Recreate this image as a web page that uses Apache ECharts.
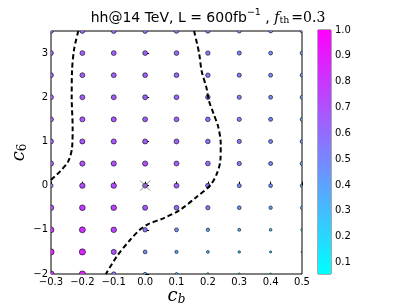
<!DOCTYPE html>
<html><head><meta charset="utf-8">
<script src="https://cdn.jsdelivr.net/npm/echarts@6/dist/echarts.min.js"></script>
<style>html,body{margin:0;padding:0;background:#fff}#c{width:407px;height:305px}</style>
</head><body><div id="c"></div>
<script>
// c_b grid values (x) and c_6 grid values (y)
var cbValues = [-0.3, -0.2, -0.1, 0.0, 0.1, 0.2, 0.3, 0.4, 0.5];
var c6Values = [-2, -1.5, -1, -0.5, 0, 0.5, 1, 1.5, 2, 2.5, 3, 3.5];
// significance per c6 row (bottom to top), one value per c_b column
var sigRows = [
  [0.85, 0.86, 0.55, 0.40, 0.30, 0.25, 0.20, 0.15, 0.10],
  [0.86, 0.86, 0.68, 0.47, 0.37, 0.30, 0.24, 0.19, 0.15],
  [0.80, 0.82, 0.75, 0.57, 0.48, 0.40, 0.33, 0.28, 0.24],
  [0.75, 0.78, 0.76, 0.68, 0.62, 0.54, 0.46, 0.41, 0.37],
  [0.52, 0.73, 0.73, 0.66, 0.66, 0.60, 0.50, 0.46, 0.42],
  [0.68, 0.70, 0.70, 0.70, 0.66, 0.62, 0.55, 0.50, 0.46],
  [0.66, 0.68, 0.68, 0.67, 0.65, 0.60, 0.54, 0.50, 0.46],
  [0.65, 0.67, 0.67, 0.66, 0.64, 0.60, 0.54, 0.50, 0.46],
  [0.65, 0.66, 0.66, 0.65, 0.63, 0.58, 0.53, 0.49, 0.46],
  [0.64, 0.65, 0.65, 0.64, 0.62, 0.58, 0.53, 0.49, 0.45],
  [0.64, 0.65, 0.65, 0.64, 0.62, 0.57, 0.52, 0.48, 0.45],
  [0.63, 0.64, 0.64, 0.63, 0.61, 0.57, 0.52, 0.48, 0.45]
];
// dashed contours
var leftContourCb = [-0.3, -0.27, -0.245, -0.233, -0.231, -0.234, -0.233, -0.226, -0.213];
var leftContourC6 = [0.13, 0.33, 0.55, 0.85, 1.3, 2.0, 2.6, 3.1, 3.5];
var rightContourCb = [0.156, 0.172, 0.18, 0.196, 0.203, 0.218, 0.233, 0.241, 0.24, 0.229, 0.208, 0.165, 0.111, 0.058, 0.01, -0.017, -0.048, -0.09, -0.125];
var rightContourC6 = [3.5, 3.0, 2.6, 2.2, 1.93, 1.63, 1.33, 0.95, 0.58, 0.28, 0.01, -0.25, -0.55, -0.74, -0.87, -1.0, -1.23, -1.6, -2.0];
// SM point
var smPoint = [0.0, 0.0];
// colorbar
var cbarMin = 0.055, cbarMax = 1.0;
var cbarTicks = [0.1, 0.2, 0.3, 0.4, 0.5, 0.6, 0.7, 0.8, 0.9, 1.0];
var xTicks = [-0.3, -0.2, -0.1, 0.0, 0.1, 0.2, 0.3, 0.4, 0.5];
var yTicks = [-2, -1, 0, 1, 2, 3];

var pts = [];
for (var r = 0; r < c6Values.length; r++) for (var c = 0; c < cbValues.length; c++) pts.push([cbValues[c], c6Values[r], sigRows[r][c]]);
function zip(a, b) { return a.map(function (v, i) { return [v, b[i]]; }); }
function fmtMinus(v, d) { return (v < -1e-9 ? '\u2212' : '') + Math.abs(v).toFixed(d); }

var chart = echarts.init(document.getElementById('c'));
var tickFont = {fontFamily: 'DejaVu Sans', fontSize: 10, color: '#000'};
chart.setOption({
  animation: false,
  title: {
    text: '{a|hh@14 TeV, L = 600fb}{sup|\u22121}{a| , }{f|f}{sub|th}{r|=0.3}',
    left: 203, top: 3, textAlign: 'center',
    textStyle: {fontWeight: 'normal', rich: {
      a: {fontFamily: 'DejaVu Sans', fontWeight: 'normal', fontSize: 14, color: '#000'},
      sup: {fontFamily: 'DejaVu Sans', fontWeight: 'normal', fontSize: 9.5, color: '#000', padding: [0, 0, 10, 0]},
      f: {fontFamily: 'DejaVu Serif', fontWeight: 'normal', fontStyle: 'italic', fontSize: 14, color: '#000'},
      sub: {fontFamily: 'DejaVu Serif', fontWeight: 'normal', fontSize: 9.5, color: '#000', padding: [6, 2, 0, 0]},
      r: {fontFamily: 'DejaVu Serif', fontWeight: 'normal', fontSize: 14, color: '#000'}
    }}
  },
  grid: [
    {left: 51, top: 31, width: 251, height: 243, outerBoundsMode: 'none', containLabel: false, show: true, borderColor: '#000', borderWidth: 1, backgroundColor: 'transparent'},
    {left: 318, top: 30, width: 13, height: 244, outerBoundsMode: 'none', containLabel: false, show: true, borderColor: '#555', borderWidth: 1}
  ],
  visualMap: [{show: false, seriesIndex: 0, dimension: 2, min: cbarMin, max: cbarMax, inRange: {color: ['#00ffff', '#ff00ff']}}],
  xAxis: [
    {type: 'value', gridIndex: 0, min: -0.3, max: 0.5, interval: 0.1,
     name: '{i|c}{s|b}', nameLocation: 'middle', nameGap: 12, nameMoveOverlap: false,
     nameTextStyle: {rich: {i: {fontFamily: 'DejaVu Serif', fontStyle: 'italic', fontSize: 18, color: '#000'},
                            s: {fontFamily: 'DejaVu Serif', fontStyle: 'italic', fontSize: 12, color: '#000', padding: [8, 0, 0, 0]}}},
     axisLine: {show: false}, splitLine: {show: false},
     axisTick: {show: true, inside: true, length: 4, lineStyle: {color: '#000'}, customValues: xTicks},
     axisLabel: Object.assign({margin: 3, customValues: xTicks, formatter: function (v) { return fmtMinus(v, 1); }}, tickFont)},
    {type: 'category', gridIndex: 1, data: ['c'], show: false}
  ],
  yAxis: [
    {type: 'value', gridIndex: 0, min: -2, max: 3.5, interval: 1,
     name: '{i|c}{s|6}', nameLocation: 'middle', nameGap: 22, nameRotate: 90, nameMoveOverlap: false,
     nameTextStyle: {rich: {i: {fontFamily: 'DejaVu Serif', fontStyle: 'italic', fontSize: 18, color: '#000'},
                            s: {fontFamily: 'DejaVu Serif', fontSize: 12, color: '#000', padding: [8, 0, 0, 0]}}},
     axisLine: {show: false}, splitLine: {show: false},
     axisTick: {show: true, inside: true, length: 4, lineStyle: {color: '#000'}, customValues: yTicks},
     axisLabel: Object.assign({margin: 3, customValues: yTicks, formatter: function (v) { return fmtMinus(v, 0); }}, tickFont)},
    {type: 'value', gridIndex: 1, min: cbarMin, max: cbarMax, position: 'right',
     axisLine: {show: false}, splitLine: {show: false},
     axisTick: {show: true, inside: true, length: 3, lineStyle: {color: '#333'}, customValues: cbarTicks},
     axisLabel: Object.assign({margin: 4, customValues: cbarTicks, formatter: function (v) { return v.toFixed(1); }}, tickFont)}
  ],
  series: [
    {type: 'custom', xAxisIndex: 0, yAxisIndex: 0, data: pts, clip: true, z: 3,
     encode: {x: 0, y: 1},
     renderItem: function (params, api) {
       var p = api.coord([api.value(0), api.value(1)]);
       var r = (1 + 6 * api.value(2)) / 2;
       return {type: 'circle', shape: {cx: p[0], cy: p[1], r: r},
               style: {fill: api.visual('color'), stroke: '#000', lineWidth: 0.6}};
     }},
    {type: 'scatter', xAxisIndex: 0, yAxisIndex: 0, data: [smPoint], z: 4,
     symbol: 'path://M0,0L10,10M10,0L0,10', symbolSize: 10,
     itemStyle: {color: 'none', borderColor: '#777', borderWidth: 1}},
    {type: 'line', xAxisIndex: 0, yAxisIndex: 0, data: zip(leftContourCb, leftContourC6), smooth: 0.3, symbol: 'none', z: 5, clip: true,
     lineStyle: {color: '#000', width: 2, type: [5, 3]}},
    {type: 'line', xAxisIndex: 0, yAxisIndex: 0, data: zip(rightContourCb, rightContourC6), smooth: 0.3, symbol: 'none', z: 5, clip: true,
     lineStyle: {color: '#000', width: 2, type: [5, 3]}},
    {type: 'bar', xAxisIndex: 1, yAxisIndex: 1, stack: 'cbar', data: [cbarMin], barWidth: '100%', itemStyle: {color: 'transparent'}, silent: true},
    {type: 'bar', xAxisIndex: 1, yAxisIndex: 1, stack: 'cbar', data: [cbarMax - cbarMin], barWidth: '100%', silent: true,
     itemStyle: {color: new echarts.graphic.LinearGradient(0, 1, 0, 0, [{offset: 0, color: '#00ffff'}, {offset: 1, color: '#ff00ff'}])}}
  ]
});
</script></body></html>
